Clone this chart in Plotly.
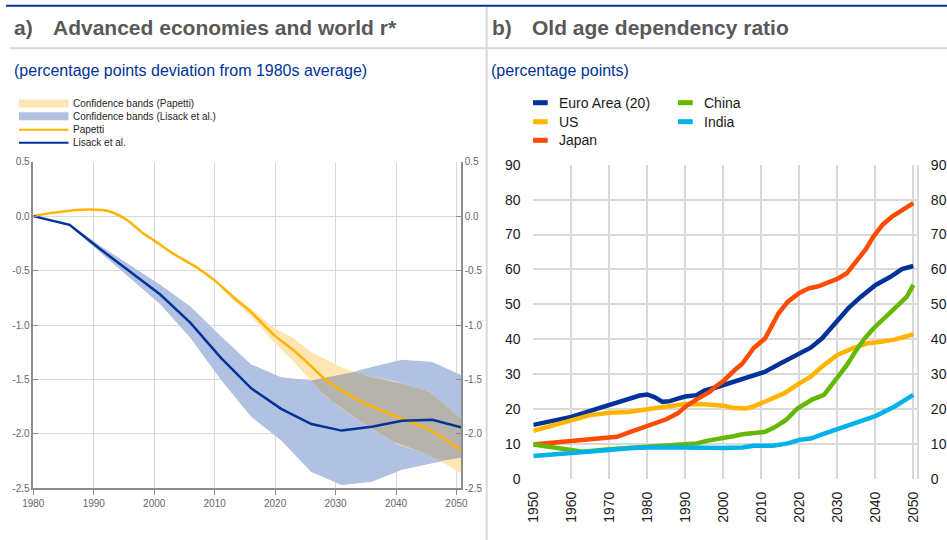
import numpy as np
import plotly.graph_objects as go

W, H = 947, 540
FONT = "Arial, 'Liberation Sans', sans-serif"

# ---------------- panel a: r* deviation from 1980s average ----------------
pap_years = [1980, 1983, 1986, 1989.5, 1992.5, 1995.5, 1998, 2000, 2003, 2007, 2010,
             2013, 2016, 2020, 2023, 2026, 2028.5, 2031, 2034.5, 2040, 2045.5, 2050.75]
pap_vals = [0.0, 0.03, 0.05, 0.06, 0.045, -0.035, -0.15, -0.225, -0.34, -0.47, -0.59,
            -0.74, -0.88, -1.10, -1.23, -1.38, -1.51, -1.60, -1.71, -1.84, -1.96, -2.15]
pap_upper = [0.0, 0.035, 0.055, 0.065, 0.05, -0.03, -0.145, -0.22, -0.335, -0.46, -0.58,
             -0.72, -0.85, -1.03, -1.12, -1.25, -1.32, -1.39, -1.46, -1.52, -1.61, -1.86]
pap_lower = [0.0, 0.025, 0.045, 0.055, 0.04, -0.04, -0.155, -0.23, -0.345, -0.48, -0.60,
             -0.77, -0.92, -1.17, -1.33, -1.52, -1.66, -1.77, -1.90, -2.09, -2.19, -2.36]

lis_years = [1980, 1986, 1991, 1996, 2001, 2006, 2011, 2016, 2021, 2026, 2031, 2036,
             2041, 2046, 2050.75]
lis_vals = [0.0, -0.08, -0.30, -0.51, -0.72, -0.98, -1.30, -1.58, -1.77, -1.91, -1.97,
            -1.935, -1.88, -1.87, -1.94]
lis_upper = [0.0, -0.07, -0.27, -0.45, -0.63, -0.83, -1.10, -1.36, -1.48, -1.51, -1.46,
             -1.385, -1.32, -1.34, -1.46]
lis_lower = [0.0, -0.09, -0.33, -0.57, -0.81, -1.12, -1.50, -1.84, -2.06, -2.35, -2.47,
             -2.44, -2.33, -2.27, -2.22]

a_yticks = [0.5, 0.0, -0.5, -1.0, -1.5, -2.0, -2.5]
a_xticks = [1980, 1990, 2000, 2010, 2020, 2030, 2040, 2050]

# ---------------- panel b: old age dependency ratio ----------------
ea_years = [1950, 1955, 1960, 1965, 1970, 1975, 1978, 1980, 1982, 1984, 1986, 1988, 1990,
            1993, 1995, 1998, 2000, 2005, 2008, 2011, 2015, 2020, 2023, 2026, 2030, 2033,
            2036, 2040, 2044, 2047, 2050]
ea_vals = [15.5, 16.5, 17.8, 19.5, 21.2, 22.8, 23.9, 24.2, 23.4, 22.1, 22.3, 23.0, 23.6,
           24.0, 25.3, 26.2, 26.9, 28.5, 29.8, 30.7, 33.1, 35.7, 37.6, 40.3, 45.5, 49.0,
           52.0, 55.5, 57.9, 60.1, 61.0]

us_years = [1950, 1955, 1960, 1965, 1970, 1975, 1980, 1985, 1990, 1995, 1998, 2000, 2003,
            2006, 2008, 2010, 2013, 2016, 2020, 2023, 2026, 2030, 2034, 2038, 2042, 2045,
            2048, 2050]
us_vals = [13.8, 15.3, 16.9, 18.3, 19.0, 19.2, 20.0, 20.7, 21.5, 21.4, 21.2, 21.0, 20.3,
           20.2, 20.8, 21.7, 23.1, 24.5, 27.4, 29.3, 32.2, 35.5, 37.4, 38.9, 39.4, 39.9,
           40.8, 41.5]

jp_years = [1950, 1955, 1960, 1965, 1970, 1972, 1975, 1980, 1985, 1988, 1990, 1993, 1996.5,
            1998, 2000, 2003, 2005, 2008, 2011, 2014.5, 2017, 2020, 2022.5, 2025, 2027,
            2030, 2032.5, 2035, 2037.5, 2039.5, 2042, 2044.5, 2047.5, 2050]
jp_vals = [9.9, 10.4, 10.7, 11.4, 11.8, 12.1, 13.3, 15.2, 17.1, 18.8, 20.7, 22.8, 25.0,
           26.5, 28.0, 31.2, 33.0, 37.5, 40.3, 47.4, 50.8, 53.3, 54.6, 55.2, 56.0,
           57.3, 58.9, 62.2, 65.8, 69.4, 72.9, 75.2, 77.1, 79.0]

cn_years = [1950, 1955, 1960, 1963, 1970, 1980, 1990, 1993, 1996, 2000, 2003, 2005, 2008,
            2011, 2013.5, 2016.5, 2019.5, 2023.5, 2026.5, 2030, 2032.5, 2035, 2037,
            2039.5, 2043, 2045.5, 2048.3, 2050]
cn_vals = [9.9, 9.1, 8.3, 7.8, 8.5, 9.2, 9.7, 10.2, 11.0, 11.6, 12.3, 12.8, 13.1,
           13.5, 14.8, 16.9, 20.2, 22.8, 24.1, 29.3, 32.6, 36.9, 40.0,
           43.1, 46.5, 49.3, 52.2, 55.6]

in_years = [1950, 1955, 1960, 1965, 1970, 1975, 1980, 1990, 1995, 2000, 2005, 2008, 2013,
            2017, 2020, 2023, 2026, 2030, 2035, 2040, 2045, 2050]
in_vals = [6.6, 7.0, 7.2, 7.8, 8.3, 8.8, 9.0, 9.0, 8.8, 8.9, 9.0, 9.5, 9.5,
           10.2, 11.2, 11.6, 12.8, 14.2, 16.0, 18.0, 20.7, 24.1]

b_xticks = list(range(1950, 2051, 10))
b_yticks = list(range(0, 91, 10))

# colours
BLUE = "#003299"
YELLOW = "#ffb400"
BAND_BLUE = "#b1c1e1"
BAND_YELLOW = "#fee6b3"
BAND_MIX = "#b5b3ab"
GRID = "#d9d9d9"
AXIS = "#8c8c8c"
series_b = [
    ("Euro Area (20)", ea_years, ea_vals, "#003299"),
    ("US", us_years, us_vals, "#ffb400"),
    ("Japan", jp_years, jp_vals, "#ff4b00"),
    ("China", cn_years, cn_vals, "#65b800"),
    ("India", in_years, in_vals, "#00b1ea"),
]


def px(x):
    return x / W


def py(y):
    return 1 - y / H


def band(xs, up, lo, color):
    return go.Scatter(x=list(xs) + list(xs)[::-1], y=list(up) + list(lo)[::-1],
                      fill="toself", fillcolor=color, mode="lines", line=dict(width=0),
                      hoverinfo="skip", showlegend=False, xaxis="x", yaxis="y")


fig = go.Figure()

# confidence bands
fig.add_trace(band(lis_years, lis_upper, lis_lower, BAND_BLUE))
fig.add_trace(band(pap_years, pap_upper, pap_lower, BAND_YELLOW))

# region where both bands overlap
grid = np.arange(1980, 2050.75 + 1e-9, 0.05)
top = np.minimum(np.interp(grid, pap_years, pap_upper), np.interp(grid, lis_years, lis_upper))
bot = np.maximum(np.interp(grid, pap_years, pap_lower), np.interp(grid, lis_years, lis_lower))
ok = (top > bot) & (grid > 2015)
if ok.any():
    i0, i1 = np.where(ok)[0][[0, -1]]
    g, t, b = grid[i0:i1 + 1], top[i0:i1 + 1], np.minimum(bot[i0:i1 + 1], top[i0:i1 + 1])
    fig.add_trace(band(g, t, b, BAND_MIX))

fig.add_trace(go.Scatter(x=pap_years, y=pap_vals, mode="lines", name="Papetti",
                         line=dict(color=YELLOW, width=2.5, shape="spline", smoothing=0.8),
                         showlegend=False, xaxis="x", yaxis="y"))
fig.add_trace(go.Scatter(x=lis_years, y=lis_vals, mode="lines", name="Lisack et al.",
                         line=dict(color=BLUE, width=2.5), showlegend=False,
                         xaxis="x", yaxis="y"))
# carrier for the right-hand axis of panel a
fig.add_trace(go.Scatter(x=lis_years, y=lis_vals, mode="lines", line=dict(width=0),
                         opacity=0, hoverinfo="skip", showlegend=False,
                         xaxis="x", yaxis="y3"))

for name, xs, ys, col in series_b:
    fig.add_trace(go.Scatter(x=xs, y=ys, mode="lines", name=name,
                             line=dict(color=col, width=4.5), showlegend=False,
                             xaxis="x2", yaxis="y2"))
fig.add_trace(go.Scatter(x=ea_years, y=ea_vals, mode="lines", line=dict(width=0),
                         opacity=0, hoverinfo="skip", showlegend=False,
                         xaxis="x2", yaxis="y4"))

a_dom_x = [px(33.3), px(461)]
a_dom_y = [py(488.3), py(161.7)]
b_dom_x = [px(533.3), px(917.3)]
b_dom_y = [py(479), py(164.7)]

tick_txt = [f"{v:.1f}" for v in a_yticks]
a_tickfont = dict(family=FONT, size=10, color="#666666")
b_tickfont = dict(family=FONT, size=14, color="#1a1a1a")

fig.update_layout(
    width=W, height=H, autosize=False,
    margin=dict(l=0, r=0, t=0, b=0, pad=0, autoexpand=False),
    paper_bgcolor="white", plot_bgcolor="white", showlegend=False,
    xaxis=dict(domain=a_dom_x, range=[1980, 2050.75], tickvals=a_xticks,
               showgrid=True, gridcolor=GRID, gridwidth=1, zeroline=False,
               showline=True, linecolor=AXIS, linewidth=1.5, ticks="outside",
               ticklen=5, tickcolor=AXIS, tickfont=a_tickfont, anchor="y", automargin=False),
    yaxis=dict(domain=a_dom_y, range=[-2.5, 0.5], tickvals=a_yticks, ticktext=tick_txt,
               showgrid=True, gridcolor=GRID, gridwidth=1, zeroline=False,
               showline=True, linecolor=AXIS, linewidth=1.5, ticks="inside",
               ticklen=5, tickcolor=AXIS, tickfont=a_tickfont, anchor="x", automargin=False),
    yaxis3=dict(overlaying="y", side="right", anchor="x", range=[-2.5, 0.5],
                tickvals=a_yticks, ticktext=tick_txt, showgrid=False, zeroline=False,
                showline=True, linecolor=AXIS, linewidth=1.5, ticks="inside",
                ticklen=5, tickcolor=AXIS, tickfont=a_tickfont, automargin=False),
    xaxis2=dict(domain=b_dom_x, range=[1950, 2051.05], tickvals=b_xticks, tickangle=-90,
                showgrid=True, gridcolor=GRID, gridwidth=1.5, zeroline=False,
                showline=False, ticks="outside", ticklen=6, tickcolor="rgba(0,0,0,0)",
                tickfont=b_tickfont, anchor="y2", automargin=False),
    yaxis2=dict(domain=b_dom_y, range=[0, 90], tickvals=b_yticks,
                showgrid=True, gridcolor=GRID, gridwidth=1.5, zeroline=False,
                showline=False, ticks="outside", ticklen=9, tickcolor="rgba(0,0,0,0)",
                tickfont=b_tickfont, anchor="x2", automargin=False),
    yaxis4=dict(overlaying="y2", side="right", anchor="x2", range=[0, 90],
                tickvals=b_yticks, showgrid=False, zeroline=False,
                showline=True, linecolor=GRID, linewidth=1.5, ticks="outside",
                ticklen=9, tickcolor="rgba(0,0,0,0)", tickfont=b_tickfont, automargin=False),
)

shapes = []
annotations = []

# page furniture: top rule, title separators, vertical divider
shapes.append(dict(type="line", xref="paper", yref="paper", x0=px(6), x1=1,
                   y0=py(5.7), y1=py(5.7), line=dict(color=BLUE, width=2)))
shapes.append(dict(type="line", xref="paper", yref="paper", x0=px(10), x1=1,
                   y0=py(48.3), y1=py(48.3), line=dict(color=GRID, width=2)))
shapes.append(dict(type="line", xref="paper", yref="paper", x0=px(486.7), x1=px(486.7),
                   y0=py(7), y1=0, line=dict(color=GRID, width=2)))


def text(x, y, s, size, color, bold=False):
    annotations.append(dict(xref="paper", yref="paper", x=px(x), y=py(y), text=f"<b>{s}</b>" if bold else s,
                            showarrow=False, xanchor="left", yanchor="middle",
                            font=dict(family=FONT, size=size, color=color)))


TITLE = "#595959"
text(12, 27, "a)", 21, TITLE, True)
text(51, 27, "Advanced economies and world r*", 21, TITLE, True)
text(490, 27, "b)", 21, TITLE, True)
text(530, 27, "Old age dependency ratio", 21, TITLE, True)
text(12, 70, "(percentage points deviation from 1980s average)", 16, BLUE)
text(489, 70, "(percentage points)", 16, BLUE)

# panel a key
legend_a = [
    ("Confidence bands (Papetti)", "band", BAND_YELLOW, 103.5),
    ("Confidence bands (Lisack et al.)", "band", BAND_BLUE, 116.3),
    ("Papetti", "line", YELLOW, 129.7),
    ("Lisack et al.", "line", BLUE, 142.7),
]
for label, kind, col, yc in legend_a:
    if kind == "band":
        shapes.append(dict(type="rect", xref="paper", yref="paper", x0=px(19), x1=px(68.5),
                           y0=py(yc - 4), y1=py(yc + 4), fillcolor=col, line=dict(width=0)))
    else:
        shapes.append(dict(type="line", xref="paper", yref="paper", x0=px(19), x1=px(68.5),
                           y0=py(yc), y1=py(yc), line=dict(color=col, width=2)))
    text(71, yc, label, 10, "#262626")

# panel b key
legend_b = [(533, 102.7), (533, 121.7), (533, 140.3), (678, 102.7), (678, 121.7)]
for (name, _, _, col), (lx, ly) in zip(series_b, legend_b):
    shapes.append(dict(type="line", xref="paper", yref="paper", x0=px(lx), x1=px(lx + 14.7),
                       y0=py(ly), y1=py(ly), line=dict(color=col, width=5)))
    text(lx + 23.5, ly, name, 14, "#1a1a1a")

fig.update_layout(shapes=shapes, annotations=annotations)

# keep the figure flush with the page edges at its fixed size
page_js = (
    "document.documentElement.style.margin='0';"
    "document.body.style.margin='0';document.body.style.padding='0';"
    "var gd=document.getElementById('{plot_id}');"
    "Plotly.relayout(gd,{width:%d,height:%d});" % (W, H)
)
fig.write_html("out.html", config={"responsive": False}, post_script=page_js)
